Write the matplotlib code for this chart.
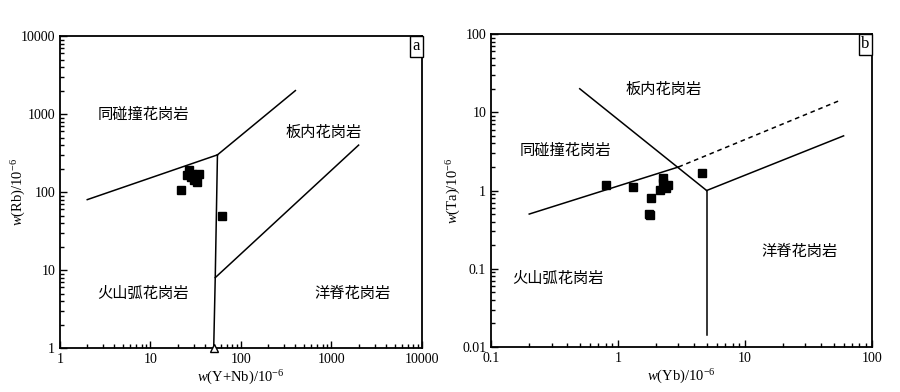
import matplotlib
matplotlib.use("Agg")
import matplotlib.pyplot as plt
from matplotlib.ticker import LogLocator, NullFormatter, FixedLocator, FixedFormatter

plt.rcParams['font.family'] = ['Liberation Serif', 'Noto Sans CJK SC', 'DejaVu Sans']
plt.rcParams['mathtext.fontset'] = 'custom'
plt.rcParams['mathtext.rm'] = 'Liberation Serif'
plt.rcParams['mathtext.it'] = 'Liberation Serif:italic'

# ---- Panel a data: Rb vs Y+Nb ----
a_x = [22, 26.5, 28.9, 34.2, 27.7, 32.8, 30.1, 25.4, 61]
a_y = [105, 190, 172, 172, 156, 134, 141, 164, 49]
a_syncolg_vag = ([2, 55], [80, 300])
a_wpg_upper = ([55, 400], [300, 2000])
a_vag_org = ([55, 52, 50], [300, 8, 1])
a_org_wpg = ([52, 2000], [8, 400])
a_labels = ["同碰撞花岗岩", "板内花岗岩", "火山弧花岗岩", "洋脊花岗岩"]
a_label_pos = [(8.3, 980), (822, 588), (8.3, 5.07), (1693, 5.07)]

# ---- Panel b data: Ta vs Yb ----
b_x = [0.81, 1.32, 1.83, 1.76, 1.8, 2.25, 2.25, 2.15, 2.40, 2.50, 4.59]
b_y = [1.17, 1.10, 0.81, 0.50, 0.49, 1.46, 1.26, 1.01, 1.07, 1.18, 1.69]
b_syncolg_vag = ([0.2, 3], [0.5, 2])
b_dashed = ([3, 55], [2, 14])
b_wpg = ([0.5, 5], [20, 1])
b_vertical = ([5, 5], [1, 0.014])
b_org = ([5, 60], [1, 5])
b_labels = ["板内花岗岩", "同碰撞花岗岩", "火山弧花岗岩", "洋脊花岗岩"]
b_label_pos = [(2.29, 19.8), (0.385, 3.23), (0.335, 0.0743), (26.8, 0.166)]

a_ticks = [1, 10, 100, 1000, 10000]
a_ticklabels = ["1", "10", "100", "1000", "10000"]
b_xticks = [0.1, 1, 10, 100]
b_xticklabels = ["0.1", "1", "10", "100"]
b_yticks = [0.01, 0.1, 1, 10, 100]
b_yticklabels = ["0.01", "0.1", "1", "10", "100"]

fig = plt.figure(figsize=(9, 3.92), dpi=100)
axa = fig.add_axes([0.0667, 0.112, 0.402, 0.796])
axb = fig.add_axes([0.5456, 0.115, 0.423, 0.798])

cjk = ['Noto Sans CJK SC']
lc = 'black'
lw = 1.1


def style(ax, xt, xtl, yt, ytl, xlim, ylim, xlabel, ylabel, tag, ylx):
    ax.set_xscale('log')
    ax.set_yscale('log')
    ax.set_xlim(*xlim)
    ax.set_ylim(*ylim)
    ax.xaxis.set_major_locator(FixedLocator(xt))
    ax.xaxis.set_major_formatter(FixedFormatter(xtl))
    ax.yaxis.set_major_locator(FixedLocator(yt))
    ax.yaxis.set_major_formatter(FixedFormatter(ytl))
    ax.xaxis.set_minor_locator(LogLocator(base=10, subs=range(2, 10)))
    ax.yaxis.set_minor_locator(LogLocator(base=10, subs=range(2, 10)))
    ax.xaxis.set_minor_formatter(NullFormatter())
    ax.yaxis.set_minor_formatter(NullFormatter())
    ax.tick_params(which='both', direction='in', top=False, right=False,
                   labelsize=10, width=1)
    ax.tick_params(which='major', length=5)
    ax.tick_params(which='minor', length=3)
    for s in ax.spines.values():
        s.set_linewidth(1.3)
    ax.set_xlabel(xlabel, fontsize=10.5, labelpad=2)
    ax.set_ylabel(ylabel, fontsize=10.5)
    ax.yaxis.set_label_coords(ylx, 0.5)
    ax.text(0.995, 0.993, tag, transform=ax.transAxes, ha='right', va='top',
            fontsize=12, bbox=dict(boxstyle='square,pad=0.15', fc='white',
                                   ec='black', lw=1))


# Panel a
style(axa, a_ticks, a_ticklabels, a_ticks, a_ticklabels, (1, 10000), (1, 10000),
      r'$\mathit{w}$(Y+Nb)/10$^{-6}$', r'$\mathit{w}$(Rb)/10$^{-6}$', 'a', -0.088)
for xs, ys in [a_syncolg_vag, a_wpg_upper, a_vag_org, a_org_wpg]:
    axa.plot(xs, ys, color=lc, lw=lw, solid_joinstyle='miter')
axa.plot([50], [1], marker='^', mfc='white', mec='black', ms=6, clip_on=False, zorder=5)
axa.plot(a_x, a_y, 's', color='black', ms=5.5, zorder=4)
for t, (x, y) in zip(a_labels, a_label_pos):
    axa.text(x, y, t, ha='center', va='center', fontsize=11, family=cjk)

# Panel b
style(axb, b_xticks, b_xticklabels, b_yticks, b_yticklabels, (0.1, 100), (0.01, 100),
      r'$\mathit{w}$(Yb)/10$^{-6}$', r'$\mathit{w}$(Ta)/10$^{-6}$', 'b', -0.073)
for xs, ys in [b_syncolg_vag, b_wpg, b_vertical, b_org]:
    axb.plot(xs, ys, color=lc, lw=lw)
axb.plot(*b_dashed, color=lc, lw=lw, ls=(0, (3, 2.5)))
axb.plot(b_x, b_y, 's', color='black', ms=5.5, zorder=4)
for t, (x, y) in zip(b_labels, b_label_pos):
    axb.text(x, y, t, ha='center', va='center', fontsize=11, family=cjk)

fig.savefig('out.png', dpi=100)
